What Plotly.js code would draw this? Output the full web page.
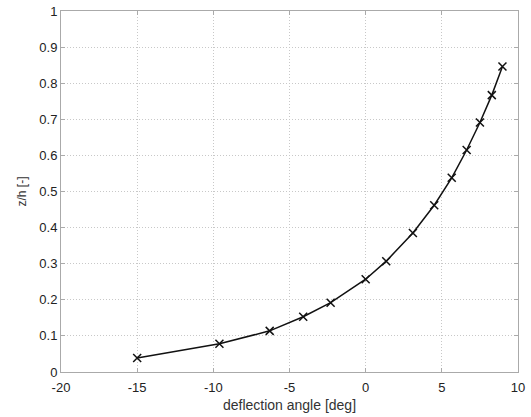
<!DOCTYPE html>
<html><head><meta charset="utf-8">
<script src="https://cdn.plot.ly/plotly-3.0.1.min.js"></script>
<style>html,body{margin:0;padding:0;background:#fff}#c{width:531px;height:417px}</style>
</head><body><div id="c"></div>
<script>
const deflection = [-15, -9.6, -6.3, -4.1, -2.3, 0, 1.35, 3.1, 4.5, 5.65, 6.63, 7.5, 8.28, 8.98];
const zh = [0.039, 0.078, 0.114, 0.153, 0.192, 0.257, 0.307, 0.385, 0.462, 0.538, 0.615, 0.691, 0.767, 0.846];
const xTicks = [-20, -15, -10, -5, 0, 5, 10];
const yTicks = [0, 0.1, 0.2, 0.3, 0.4, 0.5, 0.6, 0.7, 0.8, 0.9, 1];

const font = {family: 'Liberation Sans, Arial, sans-serif', size: 13, color: '#222'};
Plotly.newPlot('c', [{
  x: deflection, y: zh, mode: 'lines+markers', type: 'scatter',
  line: {color: '#111', width: 1.5},
  marker: {symbol: 'x-thin', size: 8, line: {color: '#111', width: 1.5}, color: '#111'}
}], {
  width: 531, height: 417,
  margin: {l: 61, r: 13, t: 11, b: 45},
  paper_bgcolor: '#fff', plot_bgcolor: '#fff',
  showlegend: false,
  font: font,
  xaxis: {
    range: [-20, 10], tickvals: xTicks, ticktext: xTicks.map(String),
    showgrid: true, gridcolor: '#c8c8c8', griddash: '1px,2px', gridwidth: 1,
    zeroline: false, showline: true, linecolor: '#aaa', mirror: 'ticks',
    ticks: 'inside', ticklen: 4, tickcolor: '#aaa', ticklabelstandoff: 3,
    tickfont: {size: 13, color: '#222'},
    title: {text: 'deflection angle [deg]', font: {size: 14, color: '#333'}, standoff: 6}
  },
  yaxis: {
    range: [0, 1], tickvals: yTicks, ticktext: yTicks.map(String),
    showgrid: true, gridcolor: '#c8c8c8', griddash: '1px,2px', gridwidth: 1,
    zeroline: false, showline: true, linecolor: '#aaa', mirror: 'ticks',
    ticks: 'inside', ticklen: 4, tickcolor: '#aaa',
    tickfont: {size: 13, color: '#222'},
    title: {text: 'z/h [-]', font: {size: 12, color: '#333'}, standoff: 10}
  }
}, {staticPlot: true, displayModeBar: false});
</script></body></html>
